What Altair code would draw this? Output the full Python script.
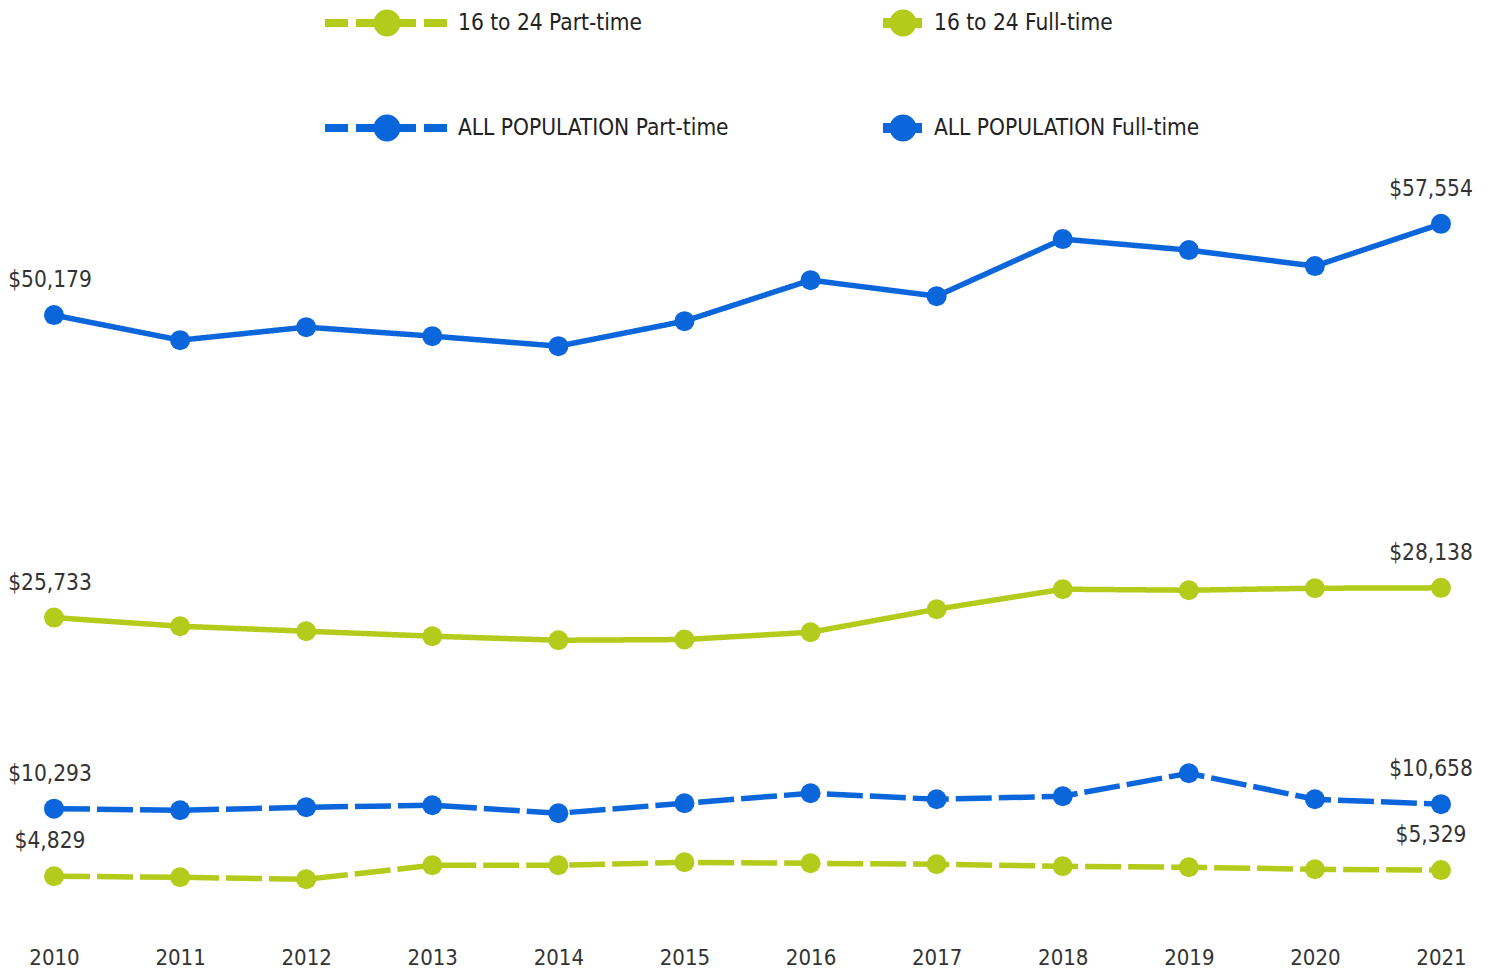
import altair as alt
import pandas as pd

years = list(range(2010, 2022))
all_full = [50179, 48156, 49207, 48480, 47672, 49692, 53007, 51714, 56321, 55432, 54139, 57554]
youth_full = [25733, 25036, 24632, 24228, 23904, 23960, 24551, 26410, 28027, 27946, 28108, 28138]
all_part = [10293, 10162, 10404, 10566, 9919, 10727, 11536, 11051, 11293, 13153, 11051, 10658]
youth_part = [4829, 4745, 4584, 5715, 5715, 5958, 5877, 5796, 5635, 5554, 5392, 5329]

series = ["16 to 24 Part-time", "16 to 24 Full-time",
          "ALL POPULATION Part-time", "ALL POPULATION Full-time"]
types = ["Part-time", "Full-time", "Part-time", "Full-time"]
values = [youth_part, youth_full, all_part, all_full]
GREEN = "#B3CB1B"
BLUE = "#0A66DA"
colors = [GREEN, GREEN, BLUE, BLUE]

FONT = "Liberation Sans Narrow, DejaVu Sans Condensed, sans-serif"
FS = 22.5

rows = []
for s, t, vals in zip(series, types, values):
    for y, v in zip(years, vals):
        rows.append({"series": s, "type": t, "year": y, "value": v})
df = pd.DataFrame(rows)

legend_df = pd.DataFrame({
    "series": series,
    "col": [i % 2 for i in range(len(series))],
    "row": [i // 2 for i in range(len(series))],
})

xs = alt.Scale(domain=[2010, 2021], nice=False, zero=False)
ys = alt.Scale(domain=[0, 75000], nice=False)
color = alt.Color("series:N", scale=alt.Scale(domain=series, range=colors), legend=None)

X_axis = alt.X("year:Q", scale=xs,
               axis=alt.Axis(values=years, format="d", title=None, grid=False,
                             ticks=False, domain=False, labelFont=FONT,
                             labelFontSize=22, labelColor="#333333",
                             labelPadding=11, labelFlush=False,
                             labelOverlap=False, labelBound=False))
X_noaxis = alt.X("year:Q", scale=xs, axis=None)
Y = alt.Y("value:Q", scale=ys, axis=None)

base = alt.Chart(df)

lines = base.mark_line(strokeWidth=5.5).encode(
    x=X_axis, y=Y, color=color, detail="series:N",
    strokeDash=alt.StrokeDash("type:N",
                              scale=alt.Scale(domain=["Part-time", "Full-time"],
                                              range=[[36, 7], [1, 0]]),
                              legend=None),
)
points = base.mark_circle(size=400, opacity=1).encode(x=X_noaxis, y=Y, color=color)

first_labels = base.transform_filter(alt.datum.year == 2010).mark_text(
    font=FONT, fontSize=FS, color="#333333", dx=-4, dy=-35, baseline="middle"
).encode(x=X_noaxis, y=Y, text=alt.Text("value:Q", format="$,.0f"))

last_labels = base.transform_filter(alt.datum.year == 2021).mark_text(
    font=FONT, fontSize=FS, color="#333333", dx=-10, dy=-35, baseline="middle"
).encode(x=X_noaxis, y=Y, text=alt.Text("value:Q", format="$,.0f"))

# Legend (drawn as its own small layer)
lx = alt.Scale(domain=[0, 1], range=[333, 849], nice=False, zero=False)
ly = alt.Scale(domain=[0, 1], range=[15, 120], nice=False, zero=False)
LX = alt.X("col:Q", scale=lx, axis=None)
LY = alt.Y("row:Q", scale=ly, axis=None)
lbase = alt.Chart(legend_df)

leg_rule_part = lbase.transform_filter(alt.datum.col == 0).mark_rule(
    strokeWidth=8, strokeDash=[23, 8, 60, 8], xOffset=-62, x2Offset=60
).encode(x=LX, x2="col:Q", y=LY, color=color)
leg_rule_full = lbase.transform_filter(alt.datum.col == 1).mark_rule(
    strokeWidth=10, xOffset=-20, x2Offset=19
).encode(x=LX, x2="col:Q", y=LY, color=color)
leg_dot = lbase.mark_circle(size=720, opacity=1).encode(x=LX, y=LY, color=color)
leg_text_part = lbase.transform_filter(alt.datum.col == 0).mark_text(
    align="left", baseline="middle", dx=71, font=FONT, fontSize=FS, color="#222222"
).encode(x=LX, y=LY, text="series:N")
leg_text_full = lbase.transform_filter(alt.datum.col == 1).mark_text(
    align="left", baseline="middle", dx=31, font=FONT, fontSize=FS, color="#222222"
).encode(x=LX, y=LY, text="series:N")

chart = alt.layer(
    lines, points, first_labels, last_labels,
    leg_rule_part, leg_rule_full, leg_dot, leg_text_part, leg_text_full
).resolve_scale(
    x="independent", y="independent"
).properties(
    width=1387, height=928,
    padding={"left": 46, "right": 39, "top": 0, "bottom": 35},
    autosize=alt.AutoSizeParams(type="none"),
).configure_view(stroke=None).configure_axis(labelFont=FONT)

chart.save("out.html", embed_options={"renderer": "svg", "actions": False})
